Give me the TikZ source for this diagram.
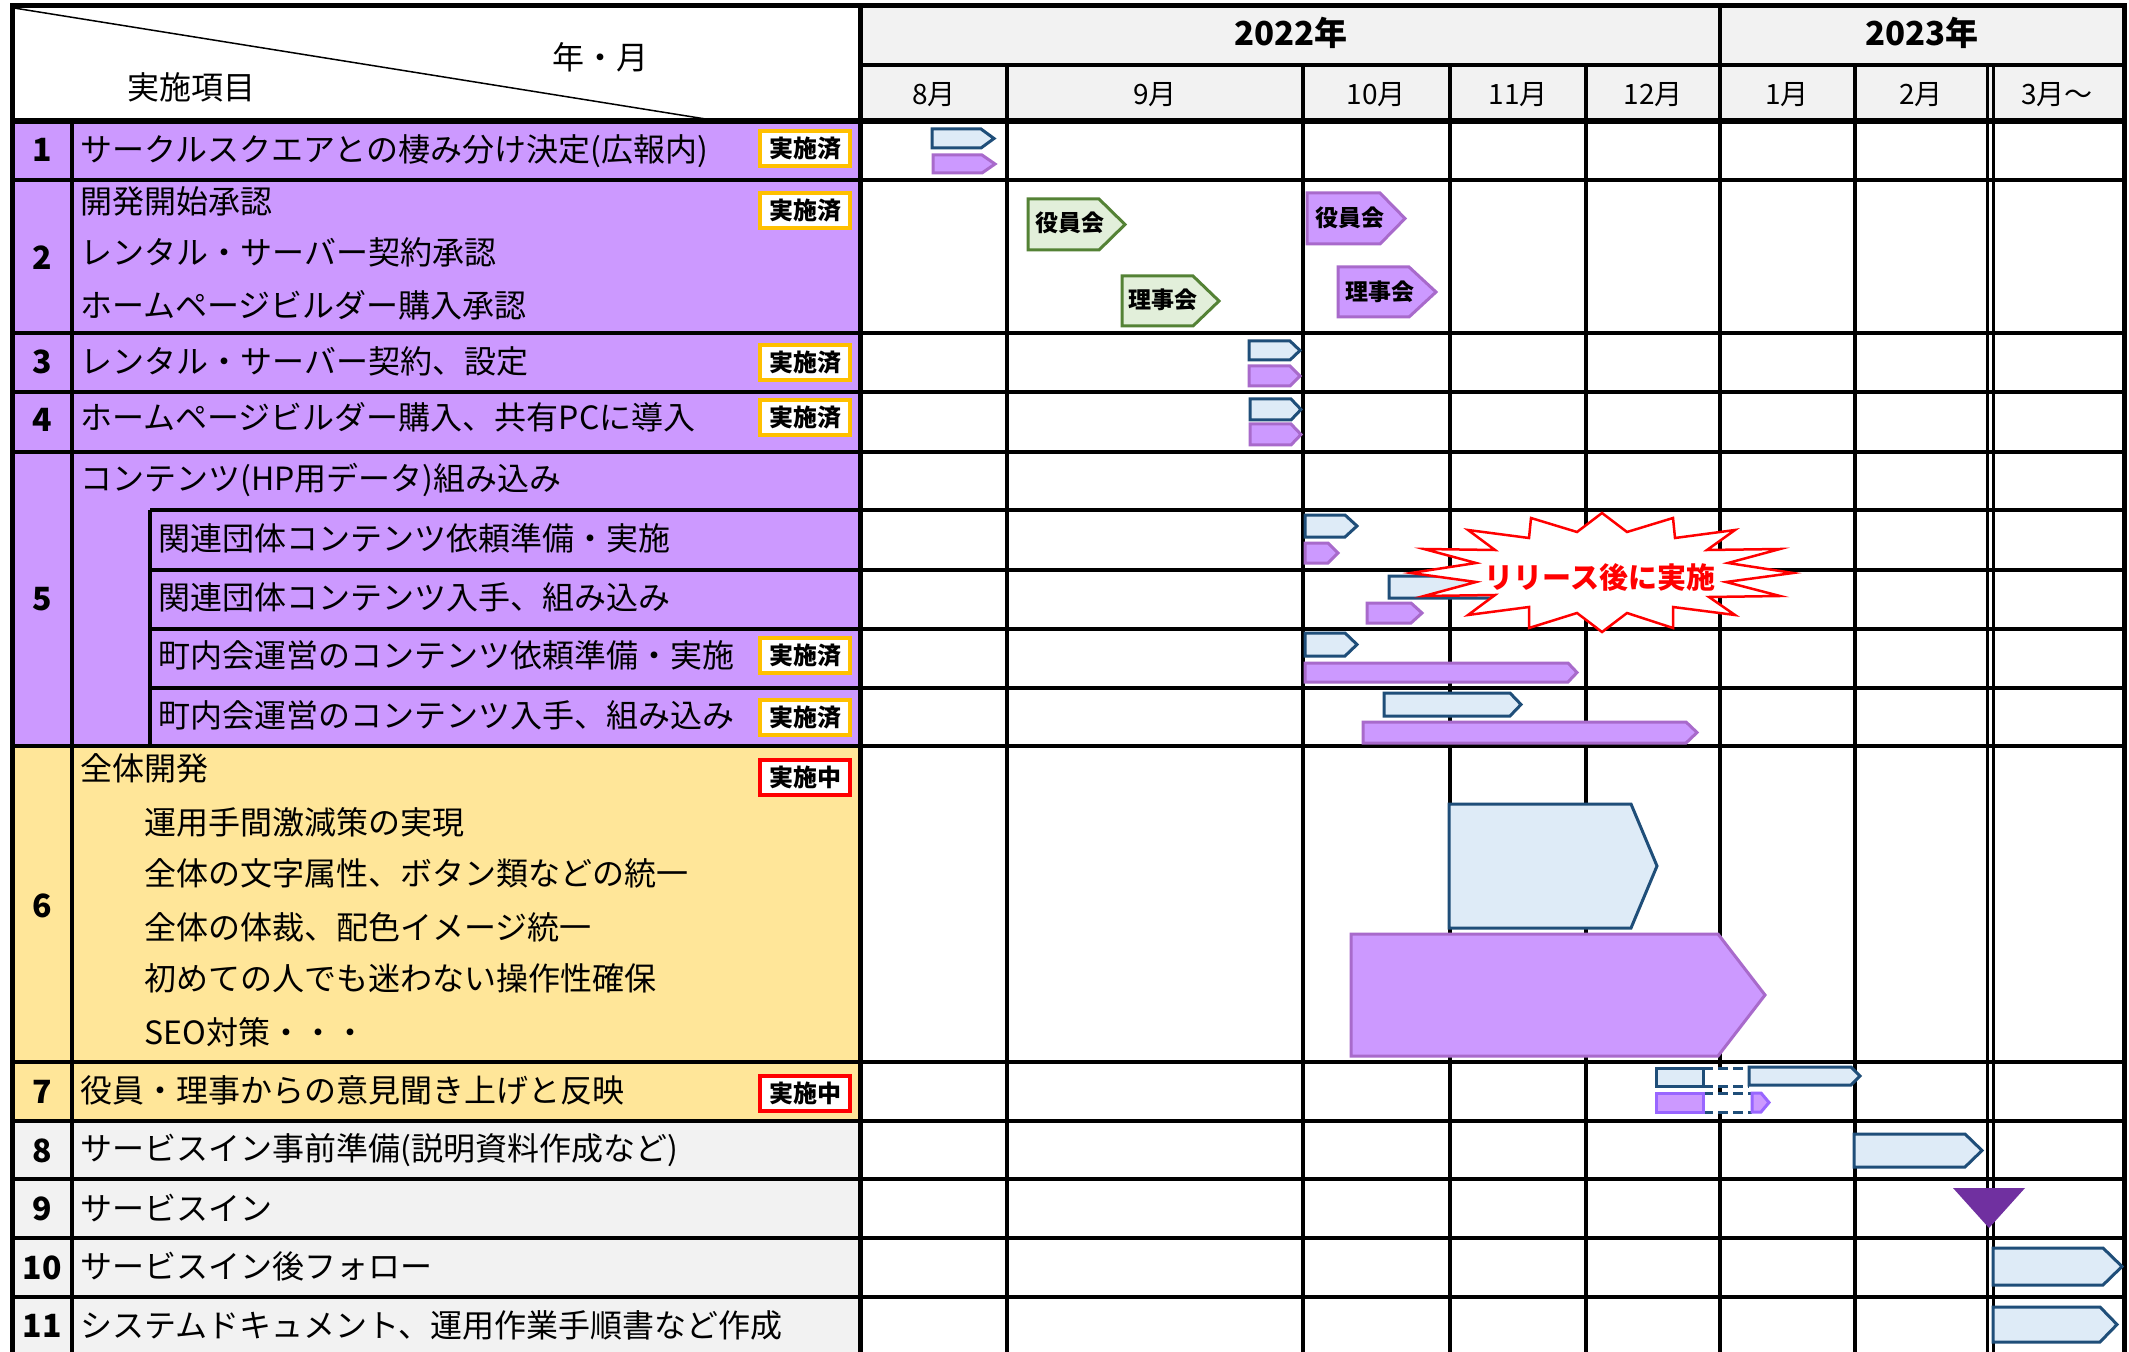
\documentclass[tikz,border=0pt]{standalone}
\usepackage{fontspec}
\setmainfont{Noto Sans CJK JP}
\definecolor{lpurple}{HTML}{CC99FF}
\definecolor{lyellow}{HTML}{FFE699}
\definecolor{lgray}{HTML}{F2F2F2}
\definecolor{bfill}{HTML}{DEEBF7}
\definecolor{bline}{HTML}{1F4E79}
\definecolor{pline}{HTML}{A86ACB}
\definecolor{p2line}{HTML}{9966FF}
\definecolor{gfill}{HTML}{E2EFDA}
\definecolor{gline}{HTML}{548235}
\definecolor{tri}{HTML}{7030A0}
\definecolor{orangeb}{HTML}{FFC000}
\newcommand\mkbar[6]{\draw[#1] (#2,#5) -- (#3,#5) -- (#4,{(#5+#6)/2}) -- (#3,#6) -- (#2,#6) -- cycle;}
\begin{document}
\begin{tikzpicture}[x=0.5pt,y=-0.5pt,
  txt/.style={anchor=base west,inner sep=0pt,font=\fontsize{16}{19}\selectfont},
  num/.style={anchor=base,inner sep=0pt,font=\bfseries\fontsize{16}{19}\selectfont},
  mon/.style={inner sep=0pt,font=\fontsize{14}{17}\selectfont},
  yr/.style={inner sep=0pt,font=\bfseries\fontsize{16.5}{19}\selectfont},
  badge/.style={draw=orangeb,line width=2pt,fill=white,minimum width=45pt,minimum height=17.5pt,inner sep=0pt,font=\bfseries\fontsize{12}{14}\selectfont},
  badgeR/.style={badge,draw=red},
  bluebar/.style={fill=bfill,draw=bline,line width=1.5pt},
  purbar/.style={fill=lpurple,draw=pline,line width=1.5pt},
  pur2bar/.style={fill=lpurple,draw=p2line,line width=1.5pt},
  grnbar/.style={fill=gfill,draw=gline,line width=1.5pt},
  barlbl/.style={inner sep=0pt,font=\bfseries\fontsize{11.5}{13}\selectfont},
  gap/.style={draw=bline,line width=1.5pt,dash pattern=on 5pt off 2.5pt},
]
\useasboundingbox (0,0) rectangle (2129,1352);
\fill[white] (0,0) rectangle (2129,1352);
% fills
\fill[white] (12,6) rectangle (860,121);
\fill[lgray] (860,6) rectangle (2124,121);
\fill[lpurple] (12,121) rectangle (860,746);
\fill[lyellow] (12,746) rectangle (860,1121);
\fill[lgray] (12,1121) rectangle (860,1352);
% grid
\foreach \yy in {180,333,392,452,746,1062,1121,1179,1238,1297} \draw[line width=2pt] (12,\yy) -- (2124,\yy);
\foreach \yy in {510,570,629,688} \draw[line width=2pt] (150,\yy) -- (2124,\yy);
\draw[line width=1.75pt] (72,121) -- (72,1352);
\draw[line width=1.75pt] (150,510) -- (150,746);
\foreach \xx in {1007,1303,1450,1586,1855} \draw[line width=1.75pt] (\xx,65) -- (\xx,1352);
\draw[line width=1.75pt] (1720,6) -- (1720,1352);
\draw[line width=1.5pt] (1987,65) -- (1987,1352);
\draw[line width=1.5pt] (1993,65) -- (1993,1352);
\draw[line width=1.75pt] (860,65) -- (2124,65);
\draw[line width=3pt] (12,121) -- (2124,121);
\draw[line width=2.5pt] (860,6) -- (860,1352);
\draw[line width=2.5pt] (12,1352) -- (12,6) -- (2124,6) -- (2124,1352);
\draw[line width=0.75pt] (14,8) -- (718,121);
% header text
\node[inner sep=0pt,font=\fontsize{16}{19}\selectfont] (hym) at (600,57) {年・月};
\node[inner sep=0pt,font=\fontsize{16}{19}\selectfont] (hitem) at (191,87) {実施項目};
\node[yr] (y22) at (1291,33) {2022年};
\node[yr] (y23) at (1922,33) {2023年};
\node[mon] (m8) at (934,95) {8月};
\node[mon] (m9) at (1155,95) {9月};
\node[mon] (m10) at (1376,95) {10月};
\node[mon] (m11) at (1518,95) {11月};
\node[mon] (m12) at (1653,95) {12月};
\node[mon] (m1) at (1787,95) {1月};
\node[mon] (m2) at (1921,95) {2月};
\node[mon] (m3) at (2057,95) {3月～};
% numbers
\node[num] (n1) at (42,162) {1};
\node[num] (n2) at (42,270) {2};
\node[num] (n3) at (42,374) {3};
\node[num] (n4) at (42,432) {4};
\node[num] (n5) at (42,610) {5};
\node[num] (n6) at (42,917) {6};
\node[num] (n7) at (42,1103) {7};
\node[num] (n8) at (42,1162) {8};
\node[num] (n9) at (42,1220) {9};
\node[num] (n10) at (42,1279) {10};
\node[num] (n11) at (42,1337) {11};
% row texts
\node[txt] (t1) at (80,162) {サークルスクエアとの棲み分け決定(広報内)};
\node[txt] (t2a) at (80,214) {開発開始承認};
\node[txt] (t2b) at (80,265) {レンタル・サーバー契約承認};
\node[txt] (t2c) at (80,318) {ホームページビルダー購入承認};
\node[txt] (t3) at (80,374) {レンタル・サーバー契約、設定};
\node[txt] (t4) at (80,430) {ホームページビルダー購入、共有PCに導入};
\node[txt] (t5) at (80,490) {コンテンツ(HP用データ)組み込み};
\node[txt] (t5a) at (158,550) {関連団体コンテンツ依頼準備・実施};
\node[txt] (t5b) at (158,609) {関連団体コンテンツ入手、組み込み};
\node[txt] (t5c) at (158,667) {町内会運営のコンテンツ依頼準備・実施};
\node[txt] (t5d) at (158,727) {町内会運営のコンテンツ入手、組み込み};
\node[txt] (t6) at (80,780) {全体開発};
\node[txt] (t6a) at (144,834) {運用手間激減策の実現};
\node[txt] (t6b) at (144,885) {全体の文字属性、ボタン類などの統一};
\node[txt] (t6c) at (144,939) {全体の体裁、配色イメージ統一};
\node[txt] (t6d) at (144,990) {初めての人でも迷わない操作性確保};
\node[txt] (t6e) at (144,1044) {SEO対策・・・};
\node[txt] (t7) at (80,1102) {役員・理事からの意見聞き上げと反映};
\node[txt] (t8) at (80,1160) {サービスイン事前準備(説明資料作成など)};
\node[txt] (t9) at (80,1220) {サービスイン};
\node[txt] (t10) at (80,1278) {サービスイン後フォロー};
\node[txt] (t11) at (80,1337) {システムドキュメント、運用作業手順書など作成};
% badges
\node[badge] (b1) at (805,149) {実施済};
\node[badge] (b2) at (805,211) {実施済};
\node[badge] (b3) at (805,363) {実施済};
\node[badge] (b4) at (805,418) {実施済};
\node[badge] (b5c) at (805,655) {実施済};
\node[badge] (b5d) at (805,717) {実施済};
\node[badgeR] (b6) at (805,777) {実施中};
\node[badgeR] (b7) at (805,1093) {実施中};
% bars
\mkbar{bluebar}{932}{981}{994}{129}{148}
\mkbar{purbar}{933}{982}{995}{155}{173}
\mkbar{grnbar}{1028}{1099}{1125}{199}{250}
\mkbar{grnbar}{1122}{1193}{1219}{276}{326}
\mkbar{purbar}{1307}{1380}{1405}{193}{244}
\mkbar{purbar}{1338}{1409}{1436}{267}{317}
\node[barlbl] (l1) at (1070,223) {役員会};
\node[barlbl] (l2) at (1163,300) {理事会};
\node[barlbl] (l3) at (1350,218) {役員会};
\node[barlbl] (l4) at (1380,292) {理事会};
\mkbar{bluebar}{1249}{1290}{1300}{341}{360}
\mkbar{purbar}{1249}{1290}{1300}{366}{386}
\mkbar{bluebar}{1250}{1291}{1301}{399}{420}
\mkbar{purbar}{1250}{1291}{1301}{424}{445}
\mkbar{bluebar}{1305}{1345}{1357}{515}{537}
\mkbar{purbar}{1305}{1328}{1338}{543}{563}
\mkbar{bluebar}{1389}{1550}{1560}{576}{598}
\mkbar{purbar}{1367}{1411}{1422}{603}{623}
\mkbar{bluebar}{1305}{1345}{1357}{633}{656}
\mkbar{purbar}{1305}{1568}{1577}{663}{682}
\mkbar{bluebar}{1384}{1510}{1521}{693}{716}
\mkbar{purbar}{1363}{1686}{1697}{722}{743}
\mkbar{bluebar}{1449}{1631}{1657}{804}{928}
\mkbar{purbar}{1351}{1718}{1765}{934}{1056}
% row 7 split bars
\fill[white] (1703,1068) rectangle (1749,1086);
\fill[white] (1703,1093) rectangle (1752,1112);
\draw[gap] (1703,1068) -- (1749,1068);
\draw[gap] (1703,1086) -- (1749,1086);
\draw[gap] (1703,1093) -- (1752,1093);
\draw[gap] (1703,1112) -- (1752,1112);
\draw[bluebar] (1656,1068) rectangle (1703,1086);
\mkbar{bluebar}{1749}{1851}{1860}{1067}{1085}
\draw[pur2bar] (1656,1093) rectangle (1703,1112);
\mkbar{pur2bar}{1752}{1761}{1769}{1093}{1112}
% rows 8-11
\mkbar{bluebar}{1854}{1965}{1982}{1134}{1167}
\fill[tri] (1953,1188) -- (2025,1188) -- (1989,1228) -- cycle;
\mkbar{bluebar}{1993}{2103}{2122}{1248}{1285}
\mkbar{bluebar}{1993}{2100}{2117}{1307}{1342}
% starburst
\draw[fill=white,draw=red,line width=1.25pt,line join=miter]
 (1602,513) -- (1627,532) -- (1673,518) -- (1675,538) -- (1735,530) -- (1707,550) -- (1780,549) -- (1728,563) -- (1793,573) -- (1726,582) -- (1780,596) -- (1709,597) -- (1735,615) -- (1673,607) -- (1673,628) -- (1627,613) -- (1602,632) -- (1577,613) -- (1529,628) -- (1529,607) -- (1468,615) -- (1495,595) -- (1424,596) -- (1476,582) -- (1411,573) -- (1476,563) -- (1424,549) -- (1495,550) -- (1468,530) -- (1529,538) -- (1531,518) -- (1577,532) -- cycle;
\node[inner sep=0pt,text=red,font=\bfseries\fontsize{14.5}{17}\selectfont] (rel) at (1600,577) {リリース後に実施};
\end{tikzpicture}
\end{document}
